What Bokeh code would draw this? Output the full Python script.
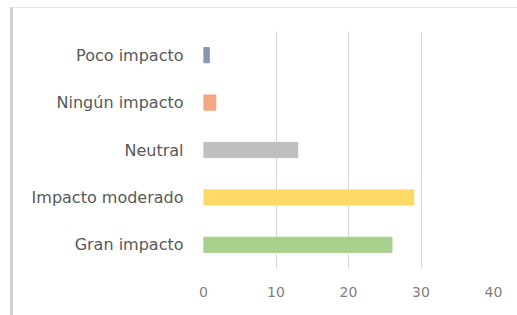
from bokeh.plotting import figure
from bokeh.models import ColumnDataSource, FixedTicker
from bokeh.embed import file_html
from bokeh.resources import INLINE

categories = ["Gran impacto", "Impacto moderado", "Neutral", "Ningún impacto", "Poco impacto"]
values = [26, 29, 13, 1.7, 0.8]
colors = ["#a9d18e", "#ffd966", "#bfbfbf", "#f4a582", "#8497b0"]
x_ticks = [0, 10, 20, 30, 40]

src = ColumnDataSource(dict(cat=categories, val=values, col=colors))

p = figure(width=507, height=308, y_range=categories, x_range=(0, 40),
           output_backend="svg", toolbar_location=None,
           min_border_left=190, min_border_right=27, min_border_top=23, min_border_bottom=48)
p.hbar(y="cat", left=0, right="val", height=0.32, color="col", source=src)

p.outline_line_color = None
p.styles = {"margin-left": "10px", "margin-top": "7px",
            "border-left": "3px solid #d0d0d0", "border-top": "1px solid #e6e6e6"}
p.ygrid.grid_line_color = None
p.xgrid.grid_line_color = "#d9d9d9"
p.xgrid.ticker = FixedTicker(ticks=x_ticks)
p.xaxis.ticker = FixedTicker(ticks=x_ticks)
for ax in (p.xaxis[0], p.yaxis[0]):
    ax.axis_line_color = None
    ax.major_tick_line_color = None
    ax.minor_tick_line_color = None
    ax.major_label_text_font = "DejaVu Sans"
p.xaxis.major_label_text_font_size = "14px"
p.yaxis.major_label_text_font_size = "16px"
p.xaxis.major_label_text_color = "#808080"
p.yaxis.major_label_text_color = "#595959"
p.xaxis.major_label_standoff = 12
p.yaxis.major_label_standoff = 14

open("out.html", "w").write(file_html(p, INLINE))
